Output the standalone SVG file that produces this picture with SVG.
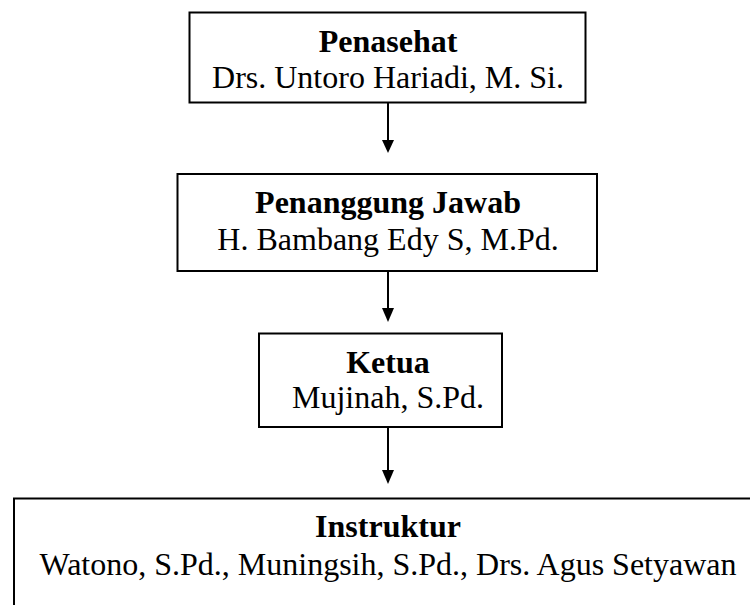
<svg xmlns="http://www.w3.org/2000/svg" width="750" height="605" viewBox="0 0 750 605">
<style>
.box{fill:#fff;stroke:#000;stroke-width:2}
.t{font-family:"Liberation Serif","Times New Roman",serif;font-size:32px;text-anchor:middle;fill:#000}
.b{font-weight:bold}
.c{stroke:#000;stroke-width:2;fill:none}
.h{fill:#000}
</style>
<rect width="750" height="605" fill="#fff"/>
<g id="connectors">
<line class="c" x1="388" y1="103" x2="388" y2="140"/>
<polygon class="h" points="382,140 394,140 388,153"/>
<line class="c" x1="388" y1="271" x2="388" y2="308"/>
<polygon class="h" points="382,308 394,308 388,322"/>
<line class="c" x1="388" y1="427" x2="388" y2="470"/>
<polygon class="h" points="382,470 394,470 388,484"/>
</g>
<g id="penasehat">
<rect class="box" x="189.5" y="12.5" width="396" height="90"/>
<text class="t b" x="388" y="52">Penasehat</text>
<text class="t" x="388" y="88">Drs. Untoro Hariadi, M. Si.</text>
</g>
<g id="penanggung-jawab">
<rect class="box" x="177.5" y="174" width="419.5" height="97"/>
<text class="t b" x="388" y="213">Penanggung Jawab</text>
<text class="t" x="388" y="250">H. Bambang Edy S, M.Pd.</text>
</g>
<g id="ketua">
<rect class="box" x="259" y="333.5" width="243" height="93.5"/>
<text class="t b" x="388" y="373">Ketua</text>
<text class="t" x="388" y="408">Mujinah, S.Pd.</text>
</g>
<g id="instruktur">
<rect class="box" x="14" y="498.5" width="760" height="130"/>
<text class="t b" x="388" y="537">Instruktur</text>
<text class="t" x="388" y="575">Watono, S.Pd., Muningsih, S.Pd., Drs. Agus Setyawan</text>
</g>
</svg>
